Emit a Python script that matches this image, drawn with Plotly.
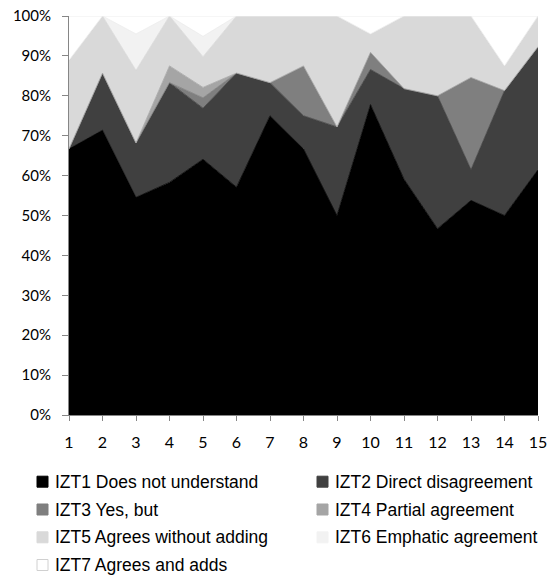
import plotly.graph_objects as go

x_vals = list(range(1, 16))
tick_labels = [str(v) for v in x_vals]

series_names = [
    "IZT1 Does not understand",
    "IZT2 Direct disagreement",
    "IZT3 Yes, but",
    "IZT4 Partial agreement",
    "IZT5 Agrees without adding",
    "IZT6 Emphatic agreement",
    "IZT7 Agrees and adds",
]

izt1 = [66.7, 71.4, 54.5, 58.3, 64.1, 57.1, 75.0, 66.7, 50.0, 77.8, 59.1, 46.7, 53.8, 50.0, 61.5]
izt2 = [0.0, 14.3, 13.6, 25.0, 12.8, 28.6, 8.3, 8.3, 22.2, 8.8, 22.7, 33.3, 7.7, 31.3, 30.8]
izt3 = [0.0, 0.0, 0.0, 0.0, 2.6, 0.0, 0.0, 12.5, 0.0, 4.3, 0.0, 0.0, 23.1, 0.0, 0.0]
izt4 = [0.0, 0.0, 0.0, 4.2, 2.6, 0.0, 0.0, 0.0, 0.0, 0.0, 0.0, 0.0, 0.0, 0.0, 0.0]
izt5 = [22.2, 14.3, 18.2, 12.5, 7.7, 14.3, 16.7, 12.5, 27.8, 4.6, 18.2, 20.0, 15.4, 6.2, 7.7]
izt6 = [0.0, 0.0, 9.1, 0.0, 5.1, 0.0, 0.0, 0.0, 0.0, 0.0, 0.0, 0.0, 0.0, 0.0, 0.0]
izt7 = [11.1, 0.0, 4.5, 0.0, 5.1, 0.0, 0.0, 0.0, 0.0, 4.5, 0.0, 0.0, 0.0, 12.5, 0.0]

series_values = [izt1, izt2, izt3, izt4, izt5, izt6, izt7]
colors = ["#000000", "#404040", "#7f7f7f", "#a5a5a5", "#d9d9d9", "#f2f2f2", "#ffffff"]
edge_colors = ["#000000", "#404040", "#7f7f7f", "#a5a5a5", "#d9d9d9", "#ebebeb", "#e8e8e8"]

W, H = 552, 578
ML, MR, MT, MB = 69, 14, 16, 163
PW, PH = W - ML - MR, H - MT - MB

fig = go.Figure()
for name, vals, col, ecol in zip(series_names, series_values, colors, edge_colors):
    fig.add_trace(go.Scatter(
        x=x_vals, y=vals, name=name, mode="lines",
        stackgroup="one", groupnorm="percent",
        fillcolor=col, line=dict(color=ecol, width=0.8),
        showlegend=False, hoverinfo="skip",
    ))

# Manual two-column legend below the plot (layout only)
def px_to_paper_x(px):
    return (px - ML) / PW

def px_to_paper_y(py):
    return (H - MB - py) / PH

col_sq_x = [42.5, 322.5]
col_txt_x = [53, 333]
row_y = [481.7, 509.5, 537.3, 565.0]
sq = 11
shapes = []
annotations = []
for i, (name, col) in enumerate(zip(series_names, colors)):
    c, r = i % 2, i // 2
    cx, cy = col_sq_x[c], row_y[r]
    shapes.append(dict(
        type="rect", xref="paper", yref="paper",
        x0=px_to_paper_x(cx - sq / 2), x1=px_to_paper_x(cx + sq / 2),
        y0=px_to_paper_y(cy + sq / 2), y1=px_to_paper_y(cy - sq / 2),
        fillcolor=col, line=dict(color="#d0d0d0" if col == "#ffffff" else col, width=1),
    ))
    annotations.append(dict(
        text=name, xref="paper", yref="paper",
        x=px_to_paper_x(col_txt_x[c]), y=px_to_paper_y(cy),
        xanchor="left", yanchor="middle", showarrow=False,
        font=dict(family="Liberation Sans, Arial, sans-serif", size=17.5, color="#000000"),
    ))

x_font = dict(family="Lato, Carlito, Calibri, sans-serif", size=16, color="#000000")
y_font = dict(family="Lato, Carlito, Calibri, sans-serif", size=15, color="#000000")

fig.update_layout(
    width=W, height=H,
    margin=dict(l=ML, r=MR, t=MT, b=MB, autoexpand=False),
    paper_bgcolor="#ffffff", plot_bgcolor="#ffffff",
    showlegend=False,
    shapes=shapes, annotations=annotations,
    xaxis=dict(
        range=[1, 15], tickmode="array", tickvals=x_vals, ticktext=tick_labels,
        showgrid=False, zeroline=False, showline=True, linecolor="#868686", linewidth=1,
        ticks="outside", ticklen=5, tickcolor="#868686", tickfont=x_font,
        ticklabelstandoff=8,
    ),
    yaxis=dict(
        range=[0, 100], dtick=10, ticksuffix="%",
        showgrid=False, zeroline=False, showline=True, linecolor="#868686", linewidth=1,
        ticks="outside", ticklen=6, tickcolor="#868686", tickfont=y_font,
        ticklabelstandoff=8,
    ),
)

fig.write_html("out.html", config={"displayModeBar": False},
               post_script="document.body.style.margin='0px';")
